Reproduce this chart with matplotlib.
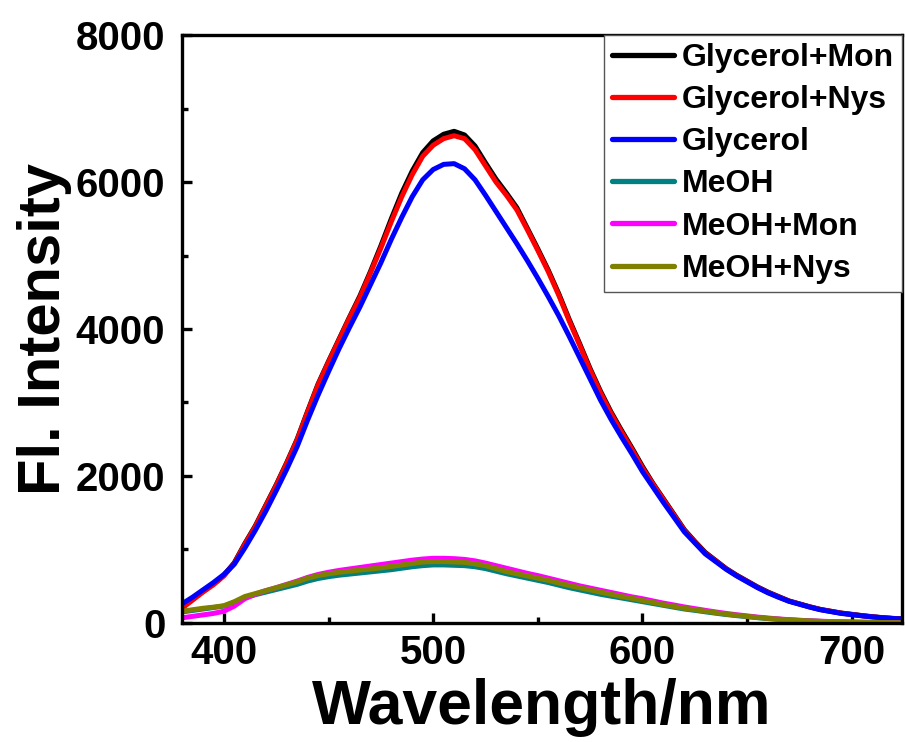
import matplotlib
matplotlib.use("Agg")
import matplotlib.pyplot as plt
from matplotlib.ticker import MultipleLocator

# --- dane (krok 5 nm) ---
wavelength = list(range(380, 730, 5))

glycerol_mon = [210, 320, 430, 530, 650, 820, 1080, 1320, 1600, 1880,
                2180, 2500, 2880, 3250, 3560, 3860, 4160, 4450, 4780, 5130,
                5500, 5850, 6150, 6400, 6560, 6650, 6690, 6640, 6490, 6260,
                6040, 5850, 5650, 5370, 5090, 4800, 4480, 4130, 3800, 3460,
                3150, 2870, 2620, 2380, 2130, 1900, 1690, 1480, 1270, 1110,
                960, 850, 740, 650, 570, 490, 420, 360, 300, 260,
                220, 185, 160, 135, 118, 100, 85, 72, 62, 55]

glycerol_nys = [200, 310, 420, 520, 640, 810, 1070, 1310, 1590, 1870,
                2170, 2490, 2870, 3240, 3550, 3850, 4150, 4430, 4760, 5100,
                5460, 5800, 6100, 6350, 6500, 6590, 6630, 6590, 6440, 6220,
                6000, 5820, 5620, 5350, 5070, 4780, 4460, 4110, 3780, 3440,
                3130, 2850, 2600, 2360, 2110, 1890, 1680, 1470, 1260, 1100,
                950, 845, 735, 645, 565, 485, 415, 355, 298, 258,
                218, 183, 158, 133, 116, 98, 83, 70, 60, 54]

glycerol = [260, 350, 450, 550, 660, 800, 1020, 1260, 1520, 1800,
            2090, 2400, 2760, 3100, 3420, 3730, 4020, 4300, 4600, 4900,
            5220, 5520, 5800, 6030, 6170, 6240, 6250, 6180, 6030, 5820,
            5600, 5380, 5160, 4930, 4690, 4440, 4180, 3900, 3610, 3320,
            3030, 2770, 2530, 2300, 2060, 1850, 1640, 1440, 1240, 1090,
            940, 835, 730, 640, 560, 480, 410, 350, 295, 255,
            215, 180, 155, 130, 114, 97, 82, 70, 60, 55]

meoh = [150, 170, 190, 210, 230, 280, 345, 385, 420, 455,
        490, 525, 570, 605, 630, 650, 665, 680, 695, 710,
        725, 745, 765, 780, 790, 790, 785, 780, 765, 740,
        705, 670, 640, 610, 580, 550, 515, 480, 450, 420,
        390, 365, 340, 315, 290, 265, 240, 215, 190, 172,
        152, 133, 115, 100, 86, 72, 60, 50, 40, 33,
        27, 21, 17, 14, 11, 9, 7, 6, 5, 4]

meoh_mon = [70, 90, 110, 130, 160, 230, 330, 390, 440, 480,
            525, 570, 620, 660, 690, 715, 735, 755, 775, 795,
            815, 835, 855, 870, 880, 880, 875, 865, 845, 815,
            780, 745, 710, 675, 645, 610, 575, 540, 505, 475,
            445, 415, 385, 355, 330, 300, 270, 245, 218, 195,
            172, 150, 130, 112, 96, 80, 67, 55, 45, 37,
            30, 24, 19, 15, 12, 10, 8, 6, 5, 4]

meoh_nys = [160, 180, 200, 215, 235, 290, 360, 400, 440, 480,
            520, 560, 610, 645, 670, 690, 705, 720, 735, 750,
            770, 790, 810, 830, 835, 835, 830, 825, 805, 780,
            740, 700, 670, 640, 610, 580, 545, 510, 480, 450,
            420, 390, 360, 335, 305, 280, 250, 225, 200, 180,
            160, 140, 120, 105, 90, 75, 62, 52, 42, 35,
            28, 22, 18, 15, 12, 10, 8, 6, 5, 4]

serie = [
    ("Glycerol+Mon", glycerol_mon, "black"),
    ("Glycerol+Nys", glycerol_nys, "red"),
    ("Glycerol", glycerol, "blue"),
    ("MeOH", meoh, "#008080"),
    ("MeOH+Mon", meoh_mon, "magenta"),
    ("MeOH+Nys", meoh_nys, "#808000"),
]

plt.rcParams['font.family'] = ['Liberation Sans', 'DejaVu Sans']
plt.rcParams['font.weight'] = 'bold'

fig = plt.figure(figsize=(9.05, 7.42), dpi=100)
ax = fig.add_axes([0.2011, 0.1604, 0.7956, 0.7924])

for nazwa, wartosci, kolor in serie:
    ax.plot(wavelength, wartosci, color=kolor, lw=3.6, label=nazwa, solid_capstyle='round')

ax.set_xlim(380, 724)
ax.set_ylim(0, 8000)
ax.xaxis.set_major_locator(MultipleLocator(100))
ax.xaxis.set_minor_locator(MultipleLocator(50))
ax.yaxis.set_major_locator(MultipleLocator(2000))
ax.yaxis.set_minor_locator(MultipleLocator(1000))

for s in ax.spines.values():
    s.set_linewidth(2.4)
ax.tick_params(which='major', direction='in', length=7, width=2.4, labelsize=29)
ax.tick_params(axis='x', which='major', pad=8)
ax.tick_params(axis='y', which='major', pad=12)
ax.tick_params(which='minor', direction='in', length=4.5, width=2.4)
ax.tick_params(top=False, right=False, which='both')
for lab in ax.get_xticklabels() + ax.get_yticklabels():
    lab.set_fontweight('bold')

ax.set_xlabel("Wavelength/nm", fontsize=45, fontweight='bold', labelpad=4)
ax.set_ylabel("Fl. Intensity", fontsize=43, fontweight='bold', labelpad=3)

leg = ax.legend(loc='upper right', borderaxespad=0, fancybox=False,
                edgecolor='#555555', framealpha=1, handlelength=1.95,
                handletextpad=0.25, labelspacing=0.38, borderpad=0.25,
                prop={'weight': 'bold', 'size': 23})
leg.get_frame().set_linewidth(1.0)
for l in leg.get_lines():
    l.set_linewidth(3.8)

fig.savefig("out.png", dpi=100)
